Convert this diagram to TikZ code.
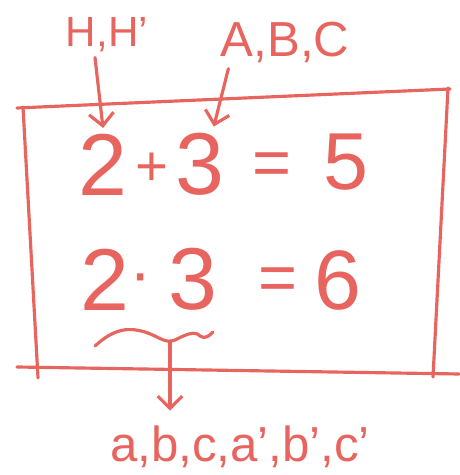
\documentclass[tikz,border=0pt]{standalone}
\usepackage{fontspec}
\setmainfont{Liberation Sans}
\usetikzlibrary{arrows.meta}
\definecolor{pen}{RGB}{232,100,94}

\begin{document}
\begin{tikzpicture}[
  ink/.style={draw=pen, line width=1.8pt, line cap=round, line join=round},
  tag/.style={text=pen, inner sep=0pt, font=\fontsize{28}{28}\selectfont},
  digit/.style={text=pen, inner sep=0pt, font=\fontsize{50}{50}\selectfont},
  sign/.style={text=pen, inner sep=0pt, font=\fontsize{38}{38}\selectfont},
  pointer/.style={ink, -{Straight Barb[length=7pt,width=14pt]}}
]
  \useasboundingbox (0,0) rectangle (9.18,9.5);

  \node[tag, font=\fontsize{24}{24}\selectfont] (hlabel) at (2.14,8.80) {H,H'};
  \node[tag] (abclabel) at (5.70,8.66) {A,B,C};

  \node[digit] (twoa) at (2.06,6.20) {2};
  \node[sign, font=\fontsize{32}{32}\selectfont] (plus) at (3.04,6.12) {+};
  \node[digit] (threea) at (4.00,6.22) {3};
  \node[sign] (eqa) at (5.44,6.12) {=};
  \node[digit, font=\fontsize{46}{46}\selectfont] (five) at (6.92,6.26) {5};

  \node[digit] (twob) at (2.10,3.90) {2};
  \node[sign] (dot) at (2.82,3.80) {·};
  \node[digit] (threeb) at (3.86,3.92) {3};
  \node[sign] (eqb) at (5.56,3.82) {=};
  \node[digit, font=\fontsize{48}{48}\selectfont] (six) at (6.76,3.90) {6};

  \node[tag] (lowlabel) at (4.80,0.56) {a,b,c,a',b',c'};

  \draw[ink] (0.34,7.34) -- (9.00,7.72);
  \draw[ink] (0.46,7.36) -- (0.76,1.94);
  \draw[ink] (8.96,7.74) -- (8.66,1.96);
  \draw[ink] (0.34,2.16) -- (9.18,2.02);

  \draw[ink] (1.90,2.58) .. controls (2.30,2.95) and (2.60,2.95) .. (2.90,2.86)
    .. controls (3.20,2.76) and (3.30,2.62) .. (3.50,2.70)
    .. controls (3.70,2.80) and (3.90,2.90) .. (4.00,2.78)
    .. controls (4.10,2.70) and (4.20,2.80) .. (4.26,2.86);
  \coordinate (wavemid) at (3.40,2.66);

  \draw[pointer] ([xshift=-0.24cm,yshift=-0.10cm]hlabel.south) -- ([yshift=0.12cm]twoa.north);
  \draw[pointer] ([xshift=0.16cm,yshift=-0.12cm]abclabel.south west) -- ([xshift=-0.22cm,yshift=0.12cm]threea.north east);
  \draw[pointer] (wavemid) -- ([yshift=0.30cm]wavemid |- lowlabel.north);
\end{tikzpicture}
\end{document}
